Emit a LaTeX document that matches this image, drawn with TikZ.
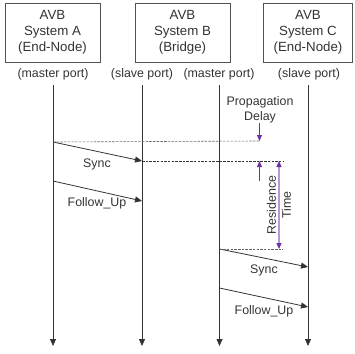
\documentclass[tikz,border=0pt]{standalone}
\usepackage{fontspec}
\setmainfont{Liberation Sans}
\usetikzlibrary{
	arrows.meta,
	positioning,
	calc,
}
\definecolor{ink}{HTML}{333333}
\definecolor{delay}{HTML}{7030A0}
\definecolor{residence}{HTML}{B49AD2}
\tikzset{system/.style={
		% The shape:
		rectangle,
		% The size:
		minimum width=95pt,minimum height=59pt,inner sep=0pt,
		% The border:
		draw=ink!85,line width=0.8pt,
		% the text
		align=center,font=\fontsize{13.3}{16}\selectfont,
}}
\tikzset{port/.style={
		font=\fontsize{12.4}{14}\selectfont,inner sep=0pt,
}}
\tikzset{msg/.style={
		->,ink,line width=0.8pt,
}}
\tikzset{lifeline/.style={
		->,ink,line width=0.8pt,
}}
\tikzset{msglabel/.style={
		font=\fontsize{12.4}{14}\selectfont,inner sep=0pt,text=ink,
}}
\tikzset{timeline/.style={
		ink,dashed,dash pattern=on 2.5pt off 1.2pt,line width=0.6pt,
}}
\begin{document}
\begin{tikzpicture}[x=1pt,y=-1pt,>={Triangle[length=7pt,width=6pt]},text=ink]
	\useasboundingbox (0,0) rectangle (355,353);
	% the three systems
	\node [system] (sa) at (52.5,32.5) {AVB\\System A\\(End-Node)};
	\node [system] (sb) at (182.5,32.5) {AVB\\System B\\(Bridge)};
	\node [system,minimum width=89pt] (sc) at (308,32.5) {AVB\\System C\\(End-Node)};
	% the ports
	\node [port] (pa) at (53,74) {(master port)};
	\node [port] (pbs) at (142,74) {(slave port)};
	\node [port] (pbm) at (219,74) {(master port)};
	\node [port] (pc) at (309,74) {(slave port)};
	% the lifelines
	\foreach \n/\x in {a/53,bs/142,bm/219.5,c/308} {
		\coordinate (\n top) at (\x,85);
		\coordinate (\n end) at (\x,346);
		\draw [lifeline] (\n top) -- (\n end);
	}
	% messages from A to B
	\coordinate (sync1) at (53,142);
	\coordinate (sync1 in) at (142,161);
	\coordinate (fu1) at (53,181);
	\coordinate (fu1 in) at (142,201);
	\draw [msg] (sync1) -- (sync1 in);
	\draw [msg] (fu1) -- (fu1 in);
	\node [msglabel] (sync1 label) at (97,164) {Sync};
	\node [msglabel] (fu1 label) at (97,203) {Follow\_Up};
	% messages from B to C
	\coordinate (sync2) at (219.5,249);
	\coordinate (sync2 in) at (308,267);
	\coordinate (fu2) at (219.5,288);
	\coordinate (fu2 in) at (308,307);
	\draw [msg] (sync2) -- (sync2 in);
	\draw [msg] (fu2) -- (fu2 in);
	\node [msglabel] (sync2 label) at (264,270) {Sync};
	\node [msglabel] (fu2 label) at (264,311) {Follow\_Up};
	% propagation delay
	\coordinate (pd end) at (260,141);
	\coordinate (rt top) at (283,161);
	\coordinate (rt bottom) at (283,249);
	\draw [timeline,ink!75] (sync1) -- (pd end);
	\draw [timeline] (sync1 in) -- (rt top);
	\draw [timeline,ink!75] (sync2) -- (rt bottom);
	\node [msglabel,align=center,font=\fontsize{12.4}{14.5}\selectfont] (pd label) at (260,110) {Propagation\\Delay};
	\coordinate (pd from) at (259.5,123);
	\coordinate (pd up from) at (259.5,181);
	\draw [->,delay,line width=0.8pt,>={Triangle[length=6pt,width=5pt]}] (pd from) -- (pd end -| pd from);
	\draw [->,delay,line width=0.8pt,>={Triangle[length=6pt,width=5pt]}] (pd up from) -- (sync1 in -| pd from);
	% residence time
	\draw [<->,residence,line width=1.2pt,>={Triangle[length=6pt,width=5pt,color=delay]}] ($(rt top)+(-4,0)$) -- ($(rt bottom)+(-4,0)$);
	\node [msglabel,rotate=90,align=center,font=\fontsize{12.4}{15}\selectfont] (rt label) at (279,205) {Residence\\Time};
\end{tikzpicture}
\end{document}
